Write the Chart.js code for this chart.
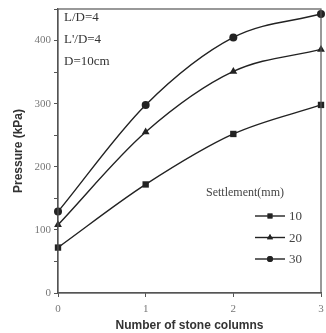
<!DOCTYPE html>
<html>
<head>
<meta charset="utf-8">
<script src="https://cdn.jsdelivr.net/npm/chart.js@4.4.1/dist/chart.umd.min.js"></script>
<style>
  html, body { margin: 0; padding: 0; background: #fff; }
  #wrap { width: 326px; height: 333px; position: relative; }
</style>
</head>
<body>
<div id="wrap"><canvas id="c" width="326" height="333"></canvas></div>
<script>
// ===== 数据 =====
const columns = [0, 1, 2, 3];
const settlements = ['10', '20', '30'];
const pressure10 = [72, 172, 252, 298];
const pressure20 = [108, 255, 351, 386];
const pressure30 = [129, 298, 405, 442];
const yTicks = [0, 100, 200, 300, 400];
const notes = ['L/D=4', 'L\'/D=4', 'D=10cm'];

const ink = '#222';
const serif = '"Liberation Serif", "DejaVu Serif", serif';
const sans = '"Liberation Sans", Arial, sans-serif';

function series(label, values, style, r) {
  return {
    label,
    data: columns.map((x, i) => ({ x, y: values[i] })),
    borderColor: ink,
    backgroundColor: ink,
    borderWidth: 1.4,
    pointStyle: style,
    pointRadius: r,
    pointBorderWidth: 0,
    cubicInterpolationMode: 'monotone',
    clip: false,
  };
}

// 外框 + 左上角说明 + 图例
const decor = {
  id: 'decor',
  afterDraw(chart) {
    const { ctx, chartArea: a } = chart;
    ctx.save();
    ctx.strokeStyle = '#555';
    ctx.lineWidth = 1.2;
    ctx.strokeRect(a.left, a.top, a.right - a.left, a.bottom - a.top);

    ctx.fillStyle = '#333';
    ctx.font = '13px ' + serif;
    ctx.textBaseline = 'middle';
    notes.forEach((t, i) => ctx.fillText(t, 64, 18 + i * 22));

    ctx.font = '12px ' + serif;
    ctx.fillStyle = '#444';
    ctx.fillText('Settlement(mm)', 206, 193);
    chart.data.datasets.forEach((ds, i) => {
      const y = 216 + i * 21.5;
      ctx.strokeStyle = ink;
      ctx.lineWidth = 1.4;
      ctx.beginPath();
      ctx.moveTo(255, y);
      ctx.lineTo(285, y);
      ctx.stroke();
      Chart.helpers.drawPoint(ctx, { pointStyle: ds.pointStyle, radius: ds.pointRadius - 1, borderWidth: 0 }, 270, y);
      ctx.fillStyle = ink;
      ctx.fill();
      ctx.fillStyle = '#444';
      ctx.font = '13px ' + serif;
      ctx.fillText(ds.label, 289, y + 1);
    });
    ctx.restore();
  }
};

new Chart(document.getElementById('c'), {
  type: 'line',
  data: {
    datasets: [
      series(settlements[0], pressure10, 'rect', 4.5),
      series(settlements[1], pressure20, 'triangle', 4.5),
      series(settlements[2], pressure30, 'circle', 4),
    ],
  },
  options: {
    responsive: false,
    animation: false,
    layout: { padding: { top: 9, right: 5, left: 0, bottom: 0 } },
    plugins: { legend: { display: false }, tooltip: { enabled: false } },
    scales: {
      x: {
        type: 'linear',
        min: 0, max: 3,
        afterFit: (s) => { s.height = 40; s.paddingLeft = 0; s.paddingRight = 0; },
        border: { color: '#555', width: 1.2 },
        grid: { drawOnChartArea: false, drawTicks: true, tickLength: 4, color: '#555' },
        ticks: {
          stepSize: 1, padding: 6, color: '#777',
          font: { family: serif, size: 11 },
        },
        title: {
          display: true, text: 'Number of stone columns', color: '#333',
          font: { family: sans, size: 12, weight: 'bold' }, padding: { top: 0, bottom: 0 },
        },
      },
      y: {
        min: 0, max: 450,
        afterFit: (s) => { s.width = 58; s.paddingTop = 0; s.paddingBottom = 0; },
        border: { color: '#555', width: 1.2 },
        grid: { drawOnChartArea: false, drawTicks: true, tickLength: 4, color: '#555' },
        ticks: {
          stepSize: 50, padding: 3, color: '#777',
          font: { family: serif, size: 11 },
          callback: (v) => (yTicks.includes(v) ? String(v) : ''),
        },
        title: {
          display: true, text: 'Pressure (kPa)', color: '#333',
          font: { family: sans, size: 12, weight: 'bold' }, padding: { top: 11, bottom: 0 },
        },
      },
    },
  },
  plugins: [decor],
});
</script>
</body>
</html>
